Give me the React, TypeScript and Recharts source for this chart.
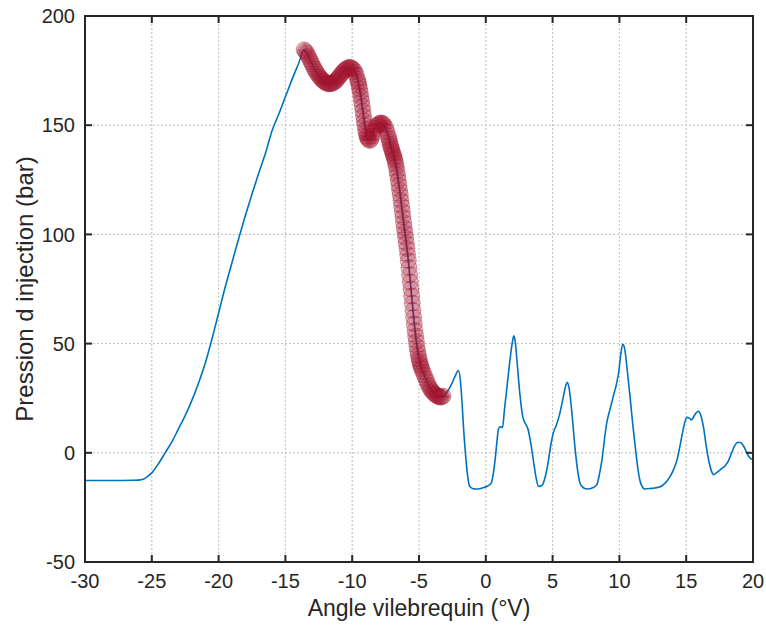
import { ComposedChart, Line, XAxis, YAxis, CartesianGrid } from 'recharts'

const FONT = '"Liberation Sans", Arial, Helvetica, sans-serif'
const INK = '#262626'
const BLUE = '#0072BD'
const RED = '#A2142F'

const W = 766
const H = 633
const MARGIN = { top: 16, right: 13, bottom: 0, left: 0 }
const Y_AXIS_W = 85
const X_AXIS_H = 71

const xTicks = [-30, -25, -20, -15, -10, -5, 0, 5, 10, 15, 20]
const yTicks = [-50, 0, 50, 100, 150, 200]
const xDomain = [-30, 20]
const yDomain = [-50, 200]

// montée de pression avant la zone marquée
const riseAngle = [
  -30, -28, -26.5, -26, -25.6, -25.3, -25, -24.5, -24, -23.5, -23, -22.5, -22, -21.5, -21, -20.5,
  -20, -19.5, -19, -18.5, -18, -17.5, -17, -16.5, -16, -15.5, -15, -14.5, -14,
]
const risePressure = [
  -12.7, -12.7, -12.6, -12.5, -12, -10.8, -9.2, -5, 0, 5, 11, 17, 24, 32, 41, 52,
  64, 76, 87, 98, 108.5, 118.5, 128, 137, 147.5, 155, 163, 171, 178.5,
]

// zone marquée (marqueurs rouges)
const markedAngle = [
  -13.6, -13.5, -13.4, -13.3, -13.2, -13.1, -13, -12.9, -12.8, -12.7, -12.6, -12.5, -12.4, -12.3,
  -12.2, -12.1, -12, -11.9, -11.8, -11.7, -11.6, -11.5, -11.4, -11.3, -11.2, -11.1, -11, -10.9,
  -10.8, -10.7, -10.6, -10.5, -10.4, -10.3, -10.2, -10.1, -10, -9.9, -9.8, -9.7, -9.6, -9.55, -9.5,
  -9.45, -9.4, -9.35, -9.3, -9.25, -9.2, -9.15, -9.1, -9.05, -9, -8.95, -8.9, -8.85, -8.8, -8.7,
  -8.6, -8.5, -8.4, -8.3, -8.2, -8.1, -8, -7.9, -7.8, -7.7, -7.6, -7.5, -7.4, -7.3, -7.25, -7.2,
  -7.15, -7.1, -7.05, -7, -6.95, -6.9, -6.85, -6.8, -6.75, -6.7, -6.65, -6.6, -6.55, -6.5, -6.45,
  -6.4, -6.35, -6.3, -6.25, -6.2, -6.15, -6.1, -6.05, -6, -5.95, -5.9, -5.85, -5.8, -5.75, -5.7,
  -5.65, -5.6, -5.55, -5.5, -5.45, -5.4, -5.35, -5.3, -5.25, -5.2, -5.15, -5.1, -5.05, -5, -4.95,
  -4.9, -4.85, -4.8, -4.7, -4.6, -4.5, -4.4, -4.3, -4.2, -4.1, -4, -3.9, -3.8, -3.7, -3.6, -3.5,
  -3.4, -3.3, -3.2,
]
const markedPressure = [
  184.5, 183.8, 183, 181.8, 180.5, 179.2, 178, 176.7, 175.5, 174.5, 173.5, 172.6, 171.8, 171.1,
  170.5, 170, 169.5, 169.2, 169, 169, 169, 169.2, 169.5, 170, 170.5, 171.2, 172, 172.8,
  173.5, 174.3, 175, 175.5, 176, 176.3, 176.5, 176.3, 176, 175.4, 174.5, 173, 171, 169.8, 168.5,
  166.8, 165, 163, 161, 158.8, 156.5, 154.2, 152, 150, 148, 146.5, 145, 144.2, 143.5, 143,
  143.5, 145, 147, 148.5, 149.5, 150.2, 150.6, 151, 151, 150.7, 150, 148.8, 147, 145, 143.8, 142.5,
  141.2, 140, 139, 138, 137, 136, 135, 134, 132.5, 131, 129, 127, 124.8, 122.5, 120.3,
  118, 115.5, 113, 110.5, 108, 105.5, 103, 100.8, 98.5, 96, 93.5, 90.8, 88, 84.8, 81.5,
  78.2, 75, 71.8, 68.5, 65.2, 62, 59, 56, 53.5, 51, 48.7, 46.5, 44.7, 43, 41.7,
  40.5, 39.5, 38.5, 37, 35.5, 34, 32.5, 31, 29.8, 28.8, 28, 27.3, 26.8, 26.3, 25.9, 25.6,
  25.5, 25.6, 26,
]

// oscillations après la fermeture
const tailAngle = [
  -3, -2.6, -2.3, -2.05, -1.9, -1.8, -1.65, -1.5, -1.35, -1.2, -0.9, -0.6, -0.2, 0.1, 0.4, 0.55,
  0.7, 0.85, 0.95, 1.1, 1.25, 1.4, 1.6, 1.8, 2, 2.1, 2.2, 2.35, 2.55, 2.75, 2.95, 3.15, 3.35,
  3.55, 3.75, 3.95, 4.2, 4.45, 4.65, 4.85, 5.05, 5.3, 5.5, 5.75, 6, 6.1, 6.25, 6.45, 6.65, 6.85,
  7.05, 7.3, 7.6, 8, 8.3, 8.5, 8.7, 8.9, 9.05, 9.3, 9.55, 9.8, 9.95, 10.1, 10.25, 10.4, 10.6,
  10.8, 11, 11.2, 11.4, 11.6, 11.9, 12.4, 13, 13.4, 13.8, 14.1, 14.3, 14.5, 14.7, 14.9, 15.05,
  15.25, 15.4, 15.6, 15.9, 16.1, 16.3, 16.5, 16.7, 16.9, 17.05, 17.3, 17.6, 17.9, 18.15, 18.4,
  18.65, 18.9, 19.1, 19.3, 19.5, 19.7, 20,
]
const tailPressure = [
  27, 31, 35, 37.7, 33, 25, 10, -2, -11, -15.4, -16.5, -16.6, -16, -15.3, -14, -10,
  -3, 6, 11, 12, 11.5, 20, 31, 42, 51, 53.6, 51, 41, 27, 17, 13.5, 11, 5,
  -3, -11, -15.4, -15, -11, -5, 3, 9, 13, 17, 24, 31, 32.3, 29, 18, 4, -7,
  -13.9, -16, -16.6, -16, -14.7, -10, -3, 7, 13.6, 20, 26, 32, 37, 45, 49.7, 47.5, 37,
  25.5, 13, 2, -8, -14, -16.6, -16.3, -15.7, -14, -10.8, -7, -3.5, 2, 8.5, 14, 16.3,
  15.8, 15, 17, 19, 17, 11.5, 3, -4, -8.5, -10, -9, -7.5, -6, -3.8, 0,
  3.5, 4.8, 4.6, 3, 0.5, -1.8, -3.2,
]

const toPoints = (a: number[], p: number[]) => a.map((angle, i) => ({ angle, pressure: p[i] }))
const marked = toPoints(markedAngle, markedPressure)
const trace = [...toPoints(riseAngle, risePressure), ...marked, ...toPoints(tailAngle, tailPressure)]

const tickFont = { fill: INK, fontSize: 20, fontFamily: FONT }
const TICK_LEN = 7

// zone de tracé, déduite des marges et des tailles d'axes
const PLOT_L = MARGIN.left + Y_AXIS_W
const PLOT_T = MARGIN.top
const PLOT_R = W - MARGIN.right
const PLOT_B = H - MARGIN.bottom - X_AXIS_H
const tickX = (v: number) => PLOT_L + ((v - xDomain[0]) / (xDomain[1] - xDomain[0])) * (PLOT_R - PLOT_L)
const tickY = (v: number) => PLOT_B - ((v - yDomain[0]) / (yDomain[1] - yDomain[0])) * (PLOT_B - PLOT_T)

// cadre fermé avec graduations intérieures (style MATLAB "box on")
function Frame() {
  return (
    <svg width={W} height={H} style={{ position: 'absolute', left: 0, top: 0, pointerEvents: 'none' }}>
      {xTicks.map((t) => (
        <g key={`x${t}`}>
          <line x1={tickX(t)} x2={tickX(t)} y1={PLOT_B} y2={PLOT_B - TICK_LEN} stroke={INK} strokeWidth={2} />
          <line x1={tickX(t)} x2={tickX(t)} y1={PLOT_T} y2={PLOT_T + TICK_LEN} stroke={INK} strokeWidth={2} />
        </g>
      ))}
      {yTicks.map((t) => (
        <g key={`y${t}`}>
          <line x1={PLOT_L} x2={PLOT_L + TICK_LEN} y1={tickY(t)} y2={tickY(t)} stroke={INK} strokeWidth={2} />
          <line x1={PLOT_R - TICK_LEN} x2={PLOT_R} y1={tickY(t)} y2={tickY(t)} stroke={INK} strokeWidth={2} />
        </g>
      ))}
      <rect x={PLOT_L} y={PLOT_T} width={PLOT_R - PLOT_L} height={PLOT_B - PLOT_T} fill="none" stroke={INK} strokeWidth={2} />
    </svg>
  )
}

const Marker = (props: any) => {
  const { cx, cy, index } = props
  if (cx == null || cy == null) return <g key={index} />
  const r = 8
  return (
    <g key={index}>
      <circle cx={cx} cy={cy} r={r} fill={RED} fillOpacity={0.26} stroke={RED} strokeOpacity={0.35} strokeWidth={1} />
      <line x1={cx - r} x2={cx + r} y1={cy} y2={cy} stroke={RED} strokeOpacity={0.3} strokeWidth={1} />
      <line x1={cx} x2={cx} y1={cy - r} y2={cy + r} stroke={RED} strokeOpacity={0.3} strokeWidth={1} />
    </g>
  )
}

export default function App() {
  return (
    <div style={{ position: 'absolute', left: 0, top: 0, width: W, height: H, background: '#fff' }}>
      <ComposedChart width={W} height={H} margin={MARGIN}>
        <CartesianGrid stroke="#bdbdbd" strokeDasharray="2 2" strokeWidth={1} />
        <XAxis
          dataKey="angle"
          type="number"
          domain={xDomain}
          ticks={xTicks}
          allowDataOverflow
          height={X_AXIS_H}
          axisLine={false}
          tickLine={false}
          tickSize={-7}
          tickMargin={19}
          tick={tickFont}
          interval={0}
          label={{ value: 'Angle vilebrequin (°V)', position: 'insideTop', offset: 38, fill: INK, fontSize: 23, fontFamily: FONT }}
        />
        <YAxis
          type="number"
          domain={yDomain}
          ticks={yTicks}
          allowDataOverflow
          width={Y_AXIS_W}
          axisLine={false}
          tickLine={false}
          tickSize={-7}
          tickMargin={17}
          tick={tickFont}
          interval={0}
          label={{ value: 'Pression d injection (bar)', angle: -90, position: 'insideLeft', offset: 24, fill: INK, fontSize: 24, fontFamily: FONT, style: { textAnchor: 'middle' } }}
        />
        <Line
          data={marked}
          dataKey="pressure"
          stroke="none"
          dot={<Marker />}
          activeDot={false}
          isAnimationActive={false}
        />
        <Line
          data={trace}
          dataKey="pressure"
          type="monotone"
          stroke={BLUE}
          strokeWidth={1.6}
          dot={false}
          activeDot={false}
          isAnimationActive={false}
        />
      </ComposedChart>
      <Frame />
    </div>
  )
}
